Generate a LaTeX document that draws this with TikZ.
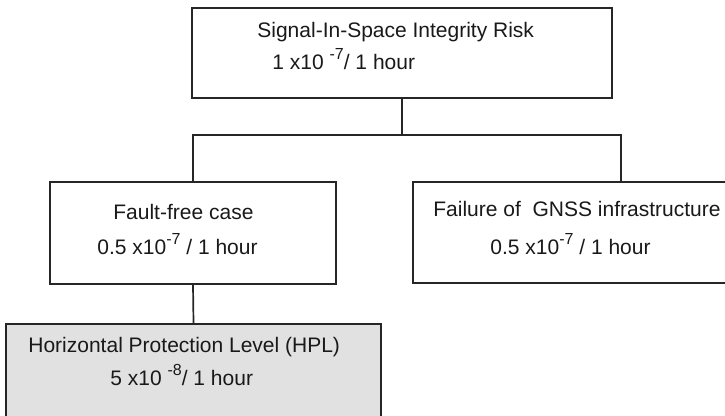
\documentclass[tikz,border=0pt]{standalone}
\usepackage{fontspec}
\setmainfont{Liberation Sans}
\definecolor{myLine}{HTML}{262626}
\definecolor{myGrey}{HTML}{E1E1E1}
\newcommand{\mySup}[1]{\raisebox{5pt}{\fontsize{8}{9}\selectfont #1}}
\tikzset{
myBox/.style={
	rectangle,draw=myLine,line width=0.85pt,
	inner sep=0pt
}
, myGreyBox/.style={
	myBox,fill=myGrey
}
, myText/.style={
	anchor=base west,inner sep=0pt,text=black!90,
	font=\fontsize{10.5}{12}\selectfont
}
% link
, myLink/.style={draw=myLine,line width=0.85pt}
}

\begin{document}
\begin{tikzpicture}[x=0.5pt,y=-0.5pt]
	\useasboundingbox (0,0) rectangle (725,416);
	\clip (0,0) rectangle (725,416);
	% boxes
	\node[myBox,minimum width=210pt,minimum height=45pt] (SIS) at (402,53) {};
	\node[myBox,minimum width=143pt,minimum height=51pt] (FaultFree) at (193,233) {};
	\node[myBox,minimum width=208pt,minimum height=50.5pt] (Gnss) at (621,232.5) {};
	\node[myGreyBox,minimum width=187.5pt,minimum height=53pt] (HPL) at (193.5,377) {};
	% texts
	\node[myText] (SISName) at (257,38) {Signal-In-Space Integrity Risk};
	\node[myText] (SISRisk) at (272,70) {1 x10 \mySup{-7}/ 1 hour};
	\node[myText] (FaultFreeName) at (113,220) {Fault-free case};
	\node[myText] (FaultFreeRisk) at (97,255) {0.5 x10\mySup{-7} / 1 hour};
	\node[myText] (GnssName) at (433,217) {Failure of~ GNSS infrastructure};
	\node[myText] (GnssRisk) at (490,255) {0.5 x10\mySup{-7} / 1 hour};
	\node[myText] (HPLName) at (28,353) {Horizontal Protection Level (HPL)};
	\node[myText] (HPLRisk) at (110,386) {5 x10 \mySup{-8}/ 1 hour};
	% links
	\coordinate (Split) at (402,135);
	\draw[myLink] (SIS.south) -- (Split);
	\draw[myLink] (Split) -| (FaultFree.north);
	\draw[myLink] (Split) -| (Gnss.north);
	\draw[myLink] (FaultFree.south) -- (HPL.north);
\end{tikzpicture}
\end{document}
